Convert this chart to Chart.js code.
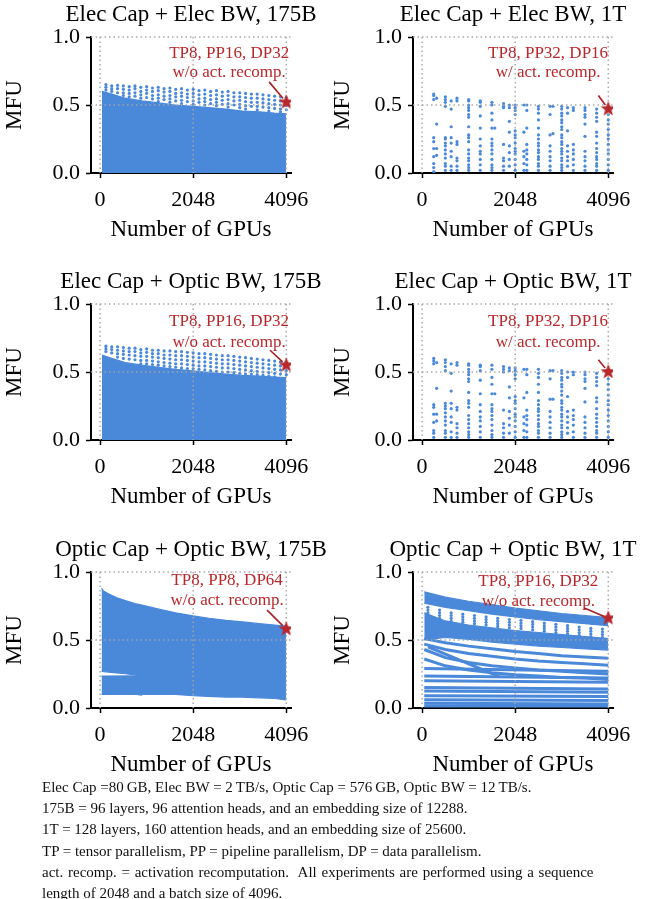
<!DOCTYPE html>
<html>
<head>
<meta charset="utf-8">
<script src="https://cdn.jsdelivr.net/npm/chart.js@4.4.1/dist/chart.umd.min.js"></script>
<style>
  body { margin: 0; background: #fff; width: 662px; height: 899px; position: relative; overflow: hidden;
         font-family: 'Liberation Serif', 'Times New Roman', serif; }
  .panel { position: absolute; }
  #caption { position: absolute; left: 42px; top: 777px; font-size: 15px; line-height: 21.2px; color: #111; white-space: nowrap; }
</style>
</head>
<body>
<div class="panel" style="left:0;top:0"><canvas id="pA" width="331" height="244"></canvas></div>
<div class="panel" style="left:328px;top:0"><canvas id="pB" width="334" height="244"></canvas></div>
<div class="panel" style="left:0;top:267px"><canvas id="pC" width="331" height="244"></canvas></div>
<div class="panel" style="left:328px;top:267px"><canvas id="pD" width="334" height="244"></canvas></div>
<div class="panel" style="left:0;top:535px"><canvas id="pE" width="331" height="244"></canvas></div>
<div class="panel" style="left:328px;top:535px"><canvas id="pF" width="334" height="244"></canvas></div>
<div id="caption">
  Elec Cap =80&thinsp;GB, Elec BW = 2&thinsp;TB/s, Optic Cap = 576&thinsp;GB, Optic BW = 12&thinsp;TB/s.<br>
  175B = 96 layers, 96 attention heads, and an embedding size of 12288.<br>
  1T = 128 layers, 160 attention heads, and an embedding size of 25600.<br>
  TP = tensor parallelism, PP = pipeline parallelism, DP = data parallelism.<br>
  <span style="word-spacing:1px">act. recomp. = activation recomputation.&nbsp; All experiments are performed using a sequence</span><br>
  length of 2048 and a batch size of 4096.
</div>
<script>
// ---- ticks ----
const xTicks = [0, 2048, 4096];
const yTicks = [0, 0.5, 1.0];

// ---- Elec Cap + Elec BW, 175B ----
const aEnvGpus = [40, 258, 553, 922, 1291, 1660, 2048, 2398, 2768, 3137, 3506, 3838, 4096];
const aEnvMfu = [0.60, 0.58, 0.55, 0.53, 0.515, 0.50, 0.49, 0.48, 0.47, 0.455, 0.45, 0.44, 0.435];
const aDotGpus = [128, 256, 384, 512, 640, 768, 896, 1024, 1152, 1280, 1408, 1536, 1664, 1792, 1920, 2048,
                  2176, 2304, 2432, 2560, 2688, 2816, 2944, 3072, 3200, 3328, 3456, 3584, 3712, 3840, 3968, 4096];
const aDotMfu = [
  [0.65, 0.63, 0.61], [0.64, 0.62, 0.60], [0.645, 0.62, 0.59], [0.64, 0.615, 0.59, 0.57],
  [0.635, 0.61, 0.585, 0.56], [0.64, 0.62, 0.59, 0.565], [0.63, 0.60, 0.575, 0.55], [0.635, 0.61, 0.585, 0.555],
  [0.625, 0.60, 0.57, 0.545], [0.63, 0.605, 0.575, 0.55, 0.525], [0.62, 0.595, 0.565, 0.54], [0.625, 0.60, 0.57, 0.545, 0.52],
  [0.615, 0.585, 0.56, 0.53], [0.62, 0.59, 0.565, 0.535, 0.51], [0.61, 0.58, 0.555, 0.525], [0.615, 0.585, 0.56, 0.53, 0.505],
  [0.605, 0.575, 0.545, 0.52], [0.61, 0.58, 0.55, 0.525, 0.50], [0.60, 0.57, 0.54, 0.51], [0.605, 0.575, 0.545, 0.52, 0.495],
  [0.595, 0.565, 0.535, 0.505], [0.60, 0.57, 0.54, 0.51, 0.485], [0.59, 0.56, 0.53, 0.50], [0.59, 0.56, 0.535, 0.505, 0.48],
  [0.585, 0.555, 0.525, 0.495, 0.47], [0.58, 0.55, 0.52, 0.49], [0.58, 0.55, 0.52, 0.49, 0.465], [0.575, 0.545, 0.515, 0.485],
  [0.57, 0.54, 0.51, 0.48, 0.455], [0.565, 0.535, 0.505, 0.475], [0.56, 0.53, 0.50, 0.47, 0.45], [0.555, 0.525, 0.495, 0.465]
];
const aStar = { x: 4096, y: 0.52 };

// ---- Elec Cap + Elec BW, 1T ----
const bGpus = [256, 320, 512, 640, 768, 1024, 1280, 1536, 1600, 1792, 1920, 2048, 2240, 2304,
               2560, 2816, 2880, 3072, 3200, 3328, 3584, 3840, 4096];
const bMfu = [
  [0.58, 0.57, 0.54, 0.26, 0.23, 0.18, 0.12, 0.07, 0.04, 0.01],
  [0.55, 0.36, 0.18, 0.13],
  [0.56, 0.54, 0.52, 0.49, 0.26, 0.25, 0.22, 0.20, 0.17, 0.14, 0.11, 0.07, 0.05, 0.02],
  [0.53, 0.47, 0.34, 0.26, 0.22, 0.16, 0.12, 0.05, 0.02],
  [0.55, 0.53, 0.23, 0.21, 0.11, 0.09, 0.05, 0.02],
  [0.54, 0.53, 0.50, 0.48, 0.46, 0.43, 0.41, 0.34, 0.28, 0.26, 0.23, 0.17, 0.14, 0.11, 0.09, 0.06, 0.04, 0.02],
  [0.53, 0.52, 0.49, 0.42, 0.33, 0.25, 0.20, 0.16, 0.14, 0.10, 0.06, 0.02],
  [0.52, 0.50, 0.44, 0.39, 0.33, 0.25, 0.22, 0.20, 0.17, 0.14, 0.10, 0.06, 0.04, 0.02],
  [0.33],
  [0.51, 0.49, 0.48, 0.21, 0.11, 0.09, 0.05, 0.02],
  [0.50, 0.48, 0.38, 0.30, 0.20, 0.15, 0.10, 0.05],
  [0.50, 0.48, 0.46, 0.43, 0.31, 0.28, 0.26, 0.22, 0.18, 0.16, 0.14, 0.10, 0.06, 0.02],
  [0.50, 0.30, 0.16, 0.12, 0.07, 0.02],
  [0.50, 0.46, 0.33, 0.21, 0.17, 0.14, 0.10, 0.06, 0.02],
  [0.49, 0.47, 0.44, 0.39, 0.33, 0.28, 0.25, 0.22, 0.20, 0.17, 0.15, 0.12, 0.10, 0.07, 0.05, 0.02],
  [0.49, 0.43, 0.28, 0.20, 0.16, 0.12, 0.09, 0.05, 0.02],
  [0.49, 0.29],
  [0.49, 0.47, 0.44, 0.42, 0.39, 0.37, 0.34, 0.32, 0.28, 0.26, 0.23, 0.21, 0.18, 0.16, 0.14, 0.11, 0.09, 0.06, 0.04, 0.02],
  [0.48, 0.44, 0.31, 0.20, 0.16, 0.12, 0.09, 0.05],
  [0.48, 0.46, 0.21, 0.17, 0.14, 0.10, 0.06, 0.02],
  [0.48, 0.46, 0.43, 0.41, 0.36, 0.27, 0.16, 0.12, 0.09, 0.05, 0.02],
  [0.47, 0.44, 0.41, 0.38, 0.30, 0.27, 0.22, 0.18, 0.15, 0.12, 0.10, 0.07, 0.05, 0.02],
  [0.43, 0.39, 0.36, 0.32, 0.28, 0.25, 0.21, 0.17, 0.14, 0.10, 0.06, 0.02]
];
const bStar = { x: 4096, y: 0.47 };

// ---- Elec Cap + Optic BW, 175B ----
const cEnvGpus = [40, 258, 553, 922, 1291, 1660, 2048, 2398, 2768, 3137, 3506, 3838, 4096];
const cEnvMfu = [0.625, 0.60, 0.57, 0.55, 0.535, 0.52, 0.508, 0.495, 0.485, 0.475, 0.47, 0.463, 0.458];
const cDotGpus = aDotGpus;
const cDotMfu = [
  [0.69, 0.67, 0.65], [0.685, 0.665, 0.64], [0.685, 0.66, 0.635, 0.61], [0.68, 0.655, 0.63, 0.60],
  [0.675, 0.65, 0.625, 0.595], [0.675, 0.65, 0.62, 0.59], [0.665, 0.64, 0.615, 0.585, 0.56], [0.67, 0.645, 0.615, 0.585, 0.56],
  [0.66, 0.635, 0.61, 0.58, 0.555], [0.66, 0.635, 0.605, 0.575, 0.55], [0.655, 0.625, 0.60, 0.57, 0.545], [0.655, 0.625, 0.595, 0.565, 0.54],
  [0.65, 0.62, 0.59, 0.56, 0.535], [0.65, 0.62, 0.59, 0.56, 0.53], [0.645, 0.615, 0.585, 0.555, 0.525], [0.64, 0.61, 0.58, 0.55, 0.525],
  [0.635, 0.605, 0.575, 0.545, 0.52], [0.635, 0.605, 0.575, 0.545, 0.515], [0.63, 0.60, 0.57, 0.54, 0.51], [0.625, 0.595, 0.565, 0.535, 0.505],
  [0.62, 0.59, 0.56, 0.53, 0.50], [0.62, 0.59, 0.56, 0.53, 0.50], [0.615, 0.585, 0.555, 0.525, 0.495], [0.61, 0.58, 0.55, 0.52, 0.49],
  [0.605, 0.575, 0.545, 0.515, 0.485], [0.60, 0.57, 0.54, 0.51, 0.485], [0.595, 0.565, 0.535, 0.505, 0.48], [0.59, 0.56, 0.53, 0.50, 0.475],
  [0.585, 0.555, 0.525, 0.495, 0.47], [0.58, 0.55, 0.52, 0.49, 0.465], [0.575, 0.545, 0.515, 0.485], [0.57, 0.54, 0.51, 0.48]
];
const cStar = { x: 4096, y: 0.55 };

// ---- Elec Cap + Optic BW, 1T ----
const dGpus = bGpus;
const dMfu = [
  [0.60, 0.58, 0.56, 0.26, 0.24, 0.19, 0.13, 0.07, 0.05, 0.02],
  [0.57, 0.38, 0.19, 0.14],
  [0.59, 0.57, 0.54, 0.51, 0.27, 0.25, 0.23, 0.20, 0.17, 0.14, 0.11, 0.07, 0.05, 0.02],
  [0.56, 0.49, 0.36, 0.27, 0.23, 0.17, 0.13, 0.06, 0.02],
  [0.57, 0.55, 0.24, 0.22, 0.12, 0.09, 0.05, 0.02],
  [0.56, 0.55, 0.52, 0.50, 0.48, 0.45, 0.43, 0.35, 0.29, 0.27, 0.24, 0.18, 0.15, 0.12, 0.09, 0.06, 0.04, 0.02],
  [0.55, 0.54, 0.51, 0.44, 0.34, 0.26, 0.21, 0.17, 0.14, 0.10, 0.06, 0.02],
  [0.55, 0.52, 0.46, 0.41, 0.34, 0.26, 0.23, 0.21, 0.18, 0.15, 0.11, 0.07, 0.04, 0.02],
  [0.34],
  [0.54, 0.52, 0.50, 0.22, 0.12, 0.09, 0.05, 0.02],
  [0.53, 0.51, 0.39, 0.31, 0.21, 0.16, 0.11, 0.05],
  [0.53, 0.51, 0.48, 0.45, 0.32, 0.29, 0.27, 0.23, 0.19, 0.17, 0.14, 0.10, 0.06, 0.02],
  [0.52, 0.31, 0.17, 0.12, 0.07, 0.02],
  [0.52, 0.48, 0.35, 0.22, 0.18, 0.15, 0.11, 0.06, 0.02],
  [0.52, 0.49, 0.46, 0.41, 0.35, 0.29, 0.26, 0.23, 0.21, 0.18, 0.15, 0.12, 0.10, 0.07, 0.05, 0.02],
  [0.51, 0.45, 0.30, 0.21, 0.17, 0.13, 0.09, 0.05, 0.02],
  [0.51, 0.30],
  [0.51, 0.49, 0.46, 0.44, 0.41, 0.39, 0.36, 0.33, 0.29, 0.27, 0.24, 0.22, 0.19, 0.17, 0.14, 0.11, 0.09, 0.06, 0.04, 0.02],
  [0.50, 0.46, 0.32, 0.21, 0.17, 0.13, 0.09, 0.05],
  [0.50, 0.48, 0.22, 0.18, 0.15, 0.11, 0.06, 0.02],
  [0.50, 0.48, 0.45, 0.43, 0.38, 0.28, 0.17, 0.13, 0.09, 0.05, 0.02],
  [0.49, 0.46, 0.43, 0.40, 0.31, 0.28, 0.23, 0.19, 0.16, 0.13, 0.10, 0.07, 0.05, 0.02],
  [0.45, 0.41, 0.37, 0.33, 0.29, 0.26, 0.22, 0.18, 0.14, 0.10, 0.06, 0.02]
];
const dStar = { x: 4096, y: 0.50 };

// ---- Optic Cap + Optic BW, 175B ----
const eEnvGpus = [32, 74, 185, 369, 553, 800, 922, 1291, 1660, 2048, 2398, 2768, 3137, 3506, 3838, 4096];
const eEnvMfu = [0.88, 0.86, 0.84, 0.81, 0.79, 0.765, 0.756, 0.727, 0.70, 0.677, 0.66, 0.645, 0.633, 0.62, 0.61, 0.603];
const eLowMfu = [0.27, 0.268, 0.264, 0.258, 0.252, 0.242, 0.10, 0.10, 0.10, 0.09, 0.085, 0.08, 0.08, 0.075, 0.07, 0.06];
const eGapGpus = [32, 800, 922];
const eGapHi = [0.235, 0.236, 0.094];
const eGapLo = [0.10, 0.10, 0.094];
const eStar = { x: 4096, y: 0.58 };

// ---- Optic Cap + Optic BW, 1T ----
const fGpus = [48, 512, 1024, 1536, 2048, 2560, 3072, 3584, 4096];
const fBand1Hi = [0.855, 0.815, 0.785, 0.76, 0.735, 0.715, 0.695, 0.68, 0.665];
const fBand1Lo = [0.77, 0.74, 0.715, 0.69, 0.67, 0.65, 0.635, 0.62, 0.605];
const fBand2Hi = [0.70, 0.64, 0.61, 0.59, 0.57, 0.555, 0.54, 0.525, 0.51];
const fBand2Lo = [0.50, 0.52, 0.505, 0.485, 0.47, 0.455, 0.445, 0.435, 0.425];
const fLine1 = [0.51, 0.48, 0.455, 0.435, 0.415, 0.40, 0.385, 0.375, 0.365];
const fLine2 = [0.47, 0.43, 0.40, 0.38, 0.36, 0.345, 0.335, 0.325, 0.315];
const fLine3 = [0.43, 0.37, 0.335, 0.31, 0.295, 0.28, 0.27, 0.26, 0.25];
const fLine4 = [0.36, 0.31, 0.28, 0.26, 0.245, 0.235, 0.225, 0.22, 0.21];
const fDiagGpus = [130, 1700];
const fDiag = [0.45, 0.23];
const fFlatGpus = [48, 4096];
const fFlatStart = [0.29, 0.235, 0.20, 0.15, 0.125, 0.09, 0.06, 0.035, 0.015];
const fFlatEnd = [0.27, 0.22, 0.19, 0.14, 0.115, 0.085, 0.055, 0.03, 0.015];
const fCombGpus = [128, 384, 640, 896, 1152, 1408, 1664, 1920, 2176, 2432, 2688, 2944, 3200, 3456, 3712, 3968];
const fCombMfu = [
  [0.74, 0.72, 0.70, 0.68], [0.72, 0.70, 0.68, 0.66], [0.70, 0.68, 0.66, 0.64], [0.69, 0.67, 0.65, 0.63],
  [0.68, 0.66, 0.64, 0.62], [0.67, 0.65, 0.63, 0.61], [0.66, 0.64, 0.62, 0.60], [0.65, 0.63, 0.61, 0.59],
  [0.645, 0.625, 0.605, 0.585], [0.635, 0.615, 0.595, 0.575], [0.625, 0.605, 0.585, 0.565], [0.615, 0.595, 0.575, 0.555],
  [0.605, 0.585, 0.565, 0.545], [0.595, 0.575, 0.555, 0.535], [0.585, 0.565, 0.545, 0.525], [0.58, 0.56, 0.54, 0.52]
];
const fStar = { x: 4096, y: 0.66 };

// ---- styles ----
const BLUE = '#4a88da';
const RED = '#b8272b';
Chart.defaults.font.family = "'Liberation Serif', 'Times New Roman', serif";
Chart.defaults.color = '#000';

function colPoints(gpus, mfu) {
  return gpus.flatMap((g, i) => mfu[i].map(v => ({ x: g, y: v })));
}
function linePoints(gpus, vals) {
  return gpus.map((g, i) => ({ x: g, y: vals[i] }));
}

function makeStar(r) {
  const c = document.createElement('canvas');
  const s = Math.ceil(r * 2 + 2);
  c.width = c.height = s;
  const g = c.getContext('2d');
  g.fillStyle = RED;
  g.beginPath();
  for (let i = 0; i < 10; i++) {
    const rad = i % 2 ? r * 0.42 : r;
    const ang = -Math.PI / 2 + i * Math.PI / 5;
    g.lineTo(s / 2 + rad * Math.cos(ang), s / 2 + rad * Math.sin(ang));
  }
  g.closePath();
  g.fill();
  return c;
}
const starImg = makeStar(8);

// dataset helpers
const starSet = p => ({ type: 'scatter', data: [p], pointStyle: starImg, pointRadius: 8 });
const dotSet = pts => ({ type: 'scatter', data: pts, pointRadius: 1.6, backgroundColor: BLUE, borderWidth: 0, pointHoverRadius: 0 });
const areaSet = (pts, fill) => ({ type: 'line', data: pts, borderColor: BLUE, borderWidth: 1.2, pointRadius: 0, backgroundColor: BLUE, fill: fill, tension: 0 });
const curveSet = (pts, w) => ({ type: 'line', data: pts, borderColor: BLUE, borderWidth: w, pointRadius: 0, fill: false, tension: 0 });

const notes = {};

function drawGrid(chart) {
  const { ctx, chartArea: a, scales: { x, y } } = chart;
  ctx.save();
  ctx.strokeStyle = 'rgba(165,165,165,0.95)';
  ctx.lineWidth = 1.5;
  ctx.setLineDash([1.5, 3]);
  xTicks.forEach(v => {
    const px = x.getPixelForValue(v);
    ctx.beginPath(); ctx.moveTo(px, a.top); ctx.lineTo(px, a.bottom); ctx.stroke();
  });
  yTicks.filter(v => v > 0).forEach(v => {
    const py = y.getPixelForValue(v);
    ctx.beginPath(); ctx.moveTo(a.left, py); ctx.lineTo(a.right, py); ctx.stroke();
  });
  ctx.restore();
}

const overlay = {
  id: 'overlay',
  beforeDatasetDraw(chart, args) {
    if (args.index === 0) drawGrid(chart); // star is dataset 0, drawn last
  },
  afterDatasetsDraw(chart) {
    const n = notes[chart.canvas.id];
    const { ctx, chartArea: a, scales: { x, y } } = chart;
    ctx.save();
    // panel title
    ctx.fillStyle = '#000';
    ctx.font = "23px 'Liberation Serif', 'Times New Roman', serif";
    ctx.textAlign = 'center';
    ctx.textBaseline = 'middle';
    ctx.fillText(n.title, (a.left + a.right) / 2, a.top - 22);
    // annotation
    ctx.fillStyle = RED;
    ctx.font = "17px 'Liberation Serif', 'Times New Roman', serif";
    n.lines.forEach((t, i) => ctx.fillText(t, x.getPixelForValue(n.textX), y.getPixelForValue(n.textY[i])));
    const x0 = x.getPixelForValue(n.from.x), y0 = y.getPixelForValue(n.from.y);
    const x1 = x.getPixelForValue(n.star.x), y1 = y.getPixelForValue(n.star.y);
    const len = Math.hypot(x1 - x0, y1 - y0);
    const ex = x1 - (x1 - x0) / len * 5, ey = y1 - (y1 - y0) / len * 5;
    ctx.strokeStyle = '#a82024';
    ctx.lineWidth = 1.6;
    ctx.beginPath(); ctx.moveTo(x0, y0); ctx.lineTo(ex, ey); ctx.stroke();
    ctx.restore();
  }
};

function makeChart(id, side, datasets, note) {
  notes[id] = note;
  const yWidth = side === 'L' ? 91 : 85;
  const padRight = side === 'L' ? 40 : 49;
  const grid = { display: true, drawOnChartArea: false, drawTicks: true, tickLength: 5, tickColor: '#000', tickWidth: 1.5 };
  const border = { display: true, color: '#000', width: 2 };
  new Chart(document.getElementById(id), {
    type: 'scatter',
    data: { datasets },
    options: {
      responsive: false,
      animation: false,
      events: [],
      layout: { padding: { top: 37, left: 0, right: padRight, bottom: 0 } },
      plugins: { legend: { display: false }, tooltip: { enabled: false } },
      scales: {
        x: {
          type: 'linear', min: -200, max: 4200,
          afterBuildTicks: s => { s.ticks = xTicks.map(v => ({ value: v })); },
          afterFit: s => { s.height = 71; },
          ticks: { font: { size: 22 }, color: '#000', padding: 9, maxRotation: 0, autoSkip: false, callback: v => String(v) },
          grid, border,
          title: { display: true, text: 'Number of GPUs', font: { size: 23 }, color: '#000', padding: { top: 0, bottom: 0 } }
        },
        y: {
          type: 'linear', min: 0, max: 1,
          afterBuildTicks: s => { s.ticks = yTicks.map(v => ({ value: v })); },
          afterFit: s => { s.width = yWidth; },
          ticks: { font: { size: 22 }, color: '#000', padding: 6, callback: v => v.toFixed(1) },
          grid, border,
          title: { display: true, text: 'MFU', font: { size: 23 }, color: '#000', padding: { top: 1, bottom: 0 } }
        }
      }
    },
    plugins: [overlay]
  });
}

// A
makeChart('pA', 'L', [
  starSet(aStar),
  dotSet(colPoints(aDotGpus, aDotMfu)),
  areaSet(linePoints(aEnvGpus, aEnvMfu), 'origin')
], { title: 'Elec Cap + Elec BW, 175B', lines: ['TP8, PP16, DP32', 'w/o act. recomp.'], textX: 2840, textY: [0.88, 0.74],
     from: { x: 3718, y: 0.67 }, star: aStar });

// B
makeChart('pB', 'R', [
  starSet(bStar),
  dotSet(colPoints(bGpus, bMfu))
], { title: 'Elec Cap + Elec BW, 1T', lines: ['TP8, PP32, DP16', 'w/ act. recomp.'], textX: 2772, textY: [0.88, 0.74],
     from: { x: 3879, y: 0.57 }, star: bStar });

// C
makeChart('pC', 'L', [
  starSet(cStar),
  dotSet(colPoints(cDotGpus, cDotMfu)),
  areaSet(linePoints(cEnvGpus, cEnvMfu), 'origin')
], { title: 'Elec Cap + Optic BW, 175B', lines: ['TP8, PP16, DP32', 'w/o act. recomp.'], textX: 2838, textY: [0.87, 0.72],
     from: { x: 3740, y: 0.66 }, star: cStar });

// D
makeChart('pD', 'R', [
  starSet(dStar),
  dotSet(colPoints(dGpus, dMfu))
], { title: 'Elec Cap + Optic BW, 1T', lines: ['TP8, PP32, DP16', 'w/ act. recomp.'], textX: 2772, textY: [0.87, 0.72],
     from: { x: 3879, y: 0.59 }, star: dStar });

// E
makeChart('pE', 'L', [
  starSet(eStar),
  areaSet(linePoints(eEnvGpus, eEnvMfu), 2),
  areaSet(linePoints(eEnvGpus, eLowMfu), false),
  areaSet(linePoints(eGapGpus, eGapHi), 4),
  areaSet(linePoints(eGapGpus, eGapLo), false)
], { title: 'Optic Cap + Optic BW, 175B', lines: ['TP8, PP8, DP64', 'w/o act. recomp.'], textX: 2794, textY: [0.94, 0.79],
     from: { x: 3674, y: 0.72 }, star: eStar });

// F
const fSets = [
  starSet(fStar),
  areaSet(linePoints(fGpus, fBand1Hi), 2),
  areaSet(linePoints(fGpus, fBand1Lo), false),
  areaSet(linePoints(fGpus, fBand2Hi), 4),
  areaSet(linePoints(fGpus, fBand2Lo), false),
  dotSet(colPoints(fCombGpus, fCombMfu)),
  curveSet(linePoints(fGpus, fLine1), 3),
  curveSet(linePoints(fGpus, fLine2), 3),
  curveSet(linePoints(fGpus, fLine3), 3),
  curveSet(linePoints(fGpus, fLine4), 3),
  curveSet(linePoints(fDiagGpus, fDiag), 3)
];
fFlatStart.forEach((v, i) => fSets.push(curveSet(linePoints(fFlatGpus, [v, fFlatEnd[i]]), 3)));
makeChart('pF', 'R', fSets,
  { title: 'Optic Cap + Optic BW, 1T', lines: ['TP8, PP16, DP32', 'w/o act. recomp.'], textX: 2558, textY: [0.93, 0.78],
    from: { x: 3568, y: 0.735 }, star: fStar });
</script>
</body>
</html>
